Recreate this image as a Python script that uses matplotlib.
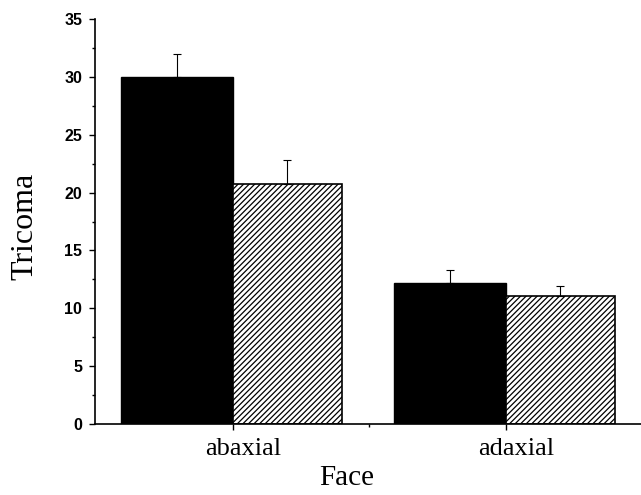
import matplotlib
matplotlib.use('Agg')
from matplotlib import pyplot as plt
from matplotlib import transforms
from matplotlib.ticker import MultipleLocator, FixedLocator

faces = ['abaxial', 'adaxial']
series_a = [30.0, 12.2]      # black bars
series_a_err = [2.0, 1.1]
series_b = [20.7, 11.1]      # hatched bars
series_b_err = [2.1, 0.8]

plt.rcParams['hatch.linewidth'] = 0.9

fig = plt.figure(figsize=(6.41, 4.95), dpi=100)
ax = fig.add_axes([0.148, 0.1434, 0.852, 0.8182])

x = list(range(len(faces)))
width = 0.41
err_kw = {'elinewidth': 0.8, 'capsize': 3, 'capthick': 0.8, 'ecolor': 'black'}
ax.bar([i - width for i in x], series_a, width, align='edge', color='black',
       edgecolor='black', yerr=[[0, 0], series_a_err], error_kw=err_kw)
ax.bar(x, series_b, 0.40, align='edge', color='white', edgecolor='black',
       hatch='//////', linewidth=1.2, yerr=[[0, 0], series_b_err], error_kw=err_kw)

ax.set_xlim(-0.505, 1.495)
ax.set_ylim(0, 35)
ax.set_xticks(x)
ax.set_xticklabels(faces, family='Liberation Serif', fontsize=19)
ax.xaxis.set_minor_locator(FixedLocator([0.5]))
ax.yaxis.set_major_locator(MultipleLocator(5))
ax.yaxis.set_minor_locator(MultipleLocator(2.5))

for lbl in ax.get_yticklabels():
    lbl.set_family('Liberation Sans')
    lbl.set_fontweight('bold')
    lbl.set_fontsize(11.5)

ax.tick_params(axis='both', which='major', length=4, width=1, direction='out')
ax.tick_params(axis='both', which='minor', length=2, width=1, direction='out')
ax.tick_params(axis='x', pad=6)
ax.tick_params(axis='y', pad=5)

# labels sit a little right of their ticks in the original
# (done after tick_params, which resets the label transforms)
shift = transforms.ScaledTranslation(10 / 100, 0, fig.dpi_scale_trans)
for tick in ax.xaxis.get_major_ticks():
    tick.label1.set_transform(tick.label1.get_transform() + shift)

ax.spines['top'].set_visible(False)
ax.spines['right'].set_visible(False)
ax.spines['left'].set_linewidth(1.2)
ax.spines['bottom'].set_linewidth(1.2)

ax.set_ylabel('Tricoma', family='Liberation Serif', fontsize=23)
ax.yaxis.set_label_coords(-0.1007, 0.489)
ax.set_xlabel('Face', family='Liberation Serif', fontsize=21)
ax.xaxis.set_label_coords(0.4615, -0.101)

fig.savefig('out.png', dpi=100)
